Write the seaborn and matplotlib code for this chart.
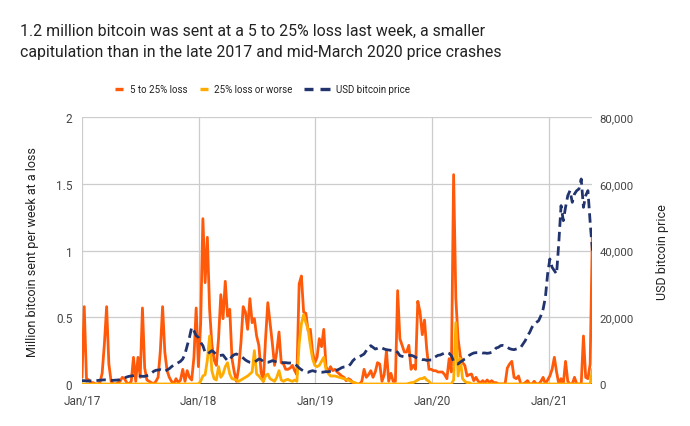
import pandas as pd
import matplotlib
matplotlib.use("Agg")
import matplotlib.pyplot as plt
import matplotlib.dates as mdates
from matplotlib.lines import Line2D
from matplotlib.ticker import FuncFormatter
import seaborn as sns

# weekly series, first week of Jan 2017 to mid-May 2021
# million bitcoin sent at a 5 to 25% loss
loss_5_25 = [
    # 2017
    0.05, 0.58, 0.04, 0.03, 0.01, 0.01, 0.0, 0.0, 0.01, 0.08, 0.3, 0.58, 0.15,
    0.02, 0.0, 0.0, 0.01, 0.02, 0.05, 0.04, 0.01, 0.0, 0.02, 0.2, 0.02, 0.2,
    0.05, 0.57, 0.12, 0.03, 0.02, 0.01, 0.0, 0.02, 0.05, 0.25, 0.58, 0.24, 0.1,
    0.05, 0.02, 0.0, 0.04, 0.01, 0.03, 0.11, 0.02, 0.1, 0.05, 0.03, 0.2, 0.57,
    # 2018
    0.13, 0.45, 1.24, 0.76, 1.1, 0.56, 0.3, 0.18, 0.14, 0.34, 0.67, 0.49, 0.77,
    0.51, 0.56, 0.19, 0.09, 0.02, 0.12, 0.31, 0.58, 0.54, 0.41, 0.64, 0.46, 0.49,
    0.36, 0.29, 0.09, 0.02, 0.34, 0.61, 0.46, 0.31, 0.14, 0.24, 0.39, 0.16, 0.15,
    0.11, 0.11, 0.12, 0.14, 0.1, 0.07, 0.75, 0.81, 0.54, 0.53, 0.40, 0.41, 0.24,
    # 2019
    0.16, 0.2, 0.34, 0.28, 0.41, 0.13, 0.09, 0.13, 0.1, 0.11, 0.09, 0.075, 0.06,
    0.05, 0.025, 0.04, 0.03, 0.01, 0.0, 0.0, 0.0, 0.02, 0.11, 0.05, 0.07, 0.1,
    0.05, 0.09, 0.16, 0.15, 0.02, 0.07, 0.25, 0.02, 0.08, 0.02, 0.02, 0.70, 0.34,
    0.29, 0.24, 0.24, 0.29, 0.11, 0.14, 0.11, 0.62, 0.54, 0.37, 0.48, 0.26, 0.11,
    # 2020
    0.11, 0.1, 0.1, 0.09, 0.09, 0.09, 0.07, 0.04, 0.19, 0.09, 1.57, 0.64, 0.34,
    0.21, 0.16, 0.14, 0.06, 0.07, 0.075, 0.025, 0.05, 0.02, 0.01, 0.025, 0.01,
    0.03, 0.01, 0.025, 0.01, 0.01, 0.0, 0.0, 0.0, 0.0, 0.12, 0.15, 0.17, 0.05,
    0.04, 0.06, 0.0, 0.0, 0.01, 0.025, 0.0, 0.0, 0.02, 0.0, 0.0, 0.02, 0.05, 0.0,
    # 2021
    0.03, 0.06, 0.11, 0.2, 0.09, 0.0, 0.04, 0.0, 0.17, 0.02, 0.0, 0.0, 0.05, 0.0,
    0.0, 0.0, 0.36, 0.05, 0.04, 0.15, 1.15,
]

# million bitcoin sent at a 25% loss or worse
loss_25_plus = [0.0] * 53 + [
    0.02, 0.06, 0.07, 0.18, 0.36, 0.1, 0.04, 0.03, 0.13, 0.05, 0.075, 0.13, 0.16,
    0.075, 0.04, 0.035, 0.03, 0.02, 0.03, 0.04, 0.05, 0.06, 0.075, 0.09, 0.25,
    0.075, 0.06, 0.04, 0.02, 0.06, 0.075, 0.04, 0.03, 0.02, 0.05, 0.1, 0.03, 0.02,
    0.03, 0.035, 0.025, 0.02, 0.03, 0.02, 0.3, 0.45, 0.52, 0.46, 0.41, 0.29, 0.19,
    0.14, 0.13, 0.14, 0.17, 0.2, 0.11, 0.08, 0.06, 0.06, 0.06, 0.055, 0.05, 0.045,
    0.04, 0.035, 0.03, 0.02, 0.015, 0.01,
] + [0.0] * 23 + [
    0.005, 0.01, 0.01, 0.02, 0.03, 0.04, 0.04, 0.05, 0.03, 0.02,
] + [0.0] * 10 + [
    0.03, 0.46, 0.06, 0.19, 0.04, 0.02, 0.01, 0.01,
] + [0.0] * 54 + [0.11]

# USD bitcoin price
btc_price = [
    # 2017
    1000, 1000, 900, 900, 950, 1000, 1000, 1050, 1150, 1200, 1250, 1150, 1050,
    1050, 1100, 1150, 1200, 1300, 1600, 1800, 2100, 2300, 2400, 2500, 2600, 2500,
    2400, 2300, 2300, 2500, 2700, 3200, 3800, 4100, 4200, 4300, 4100, 3800, 4200,
    4600, 5200, 5700, 6000, 6400, 6800, 7500, 9000, 11500, 14000, 17000, 16000, 14500,
    # 2018
    14000, 12500, 11500, 9500, 9000, 9500, 10000, 9500, 8800, 8500, 8600, 8700, 7800,
    7000, 7200, 8300, 8800, 9000, 8600, 8300, 7800, 7200, 6800, 6500, 6400, 6600,
    7000, 7500, 7300, 6700, 6500, 6500, 6700, 7000, 6800, 6600, 6500, 6500, 6400,
    6400, 6300, 6300, 6200, 6000, 5500, 4800, 4300, 3900, 3600, 3500, 3800, 4000,
    # 2019
    3800, 3600, 3500, 3500, 3600, 3700, 3700, 3800, 3900, 4000, 4200, 4500, 4900,
    5100, 5200, 5300, 6000, 7000, 7600, 8000, 8200, 8600, 9000, 10000, 11000, 11500,
    11000, 10500, 10700, 11000, 10800, 10500, 10300, 10200, 10100, 10000, 10000, 9500, 8500,
    8300, 8200, 8300, 8500, 8600, 8400, 8000, 7700, 7500, 7300, 7300, 7100, 7200,
    # 2020
    7200, 7800, 8200, 8600, 8700, 9000, 9300, 9500, 9200, 8500, 6800, 6200, 6000,
    6600, 7000, 7500, 7800, 8600, 9000, 9300, 9400, 9400, 9500, 9300, 9300, 9200,
    9300, 9500, 10000, 10800, 11000, 11500, 11600, 11500, 11000, 10600, 10400, 10300,
    10500, 10700, 11000, 12000, 13000, 14500, 15500, 17000, 18000, 18500, 19000,
    20500, 22500, 26000, 33000,
    # 2021
    37500, 35000, 34000, 33000, 42500, 53500, 49000, 53000, 56500, 58000, 54500,
    57000, 58000, 58500, 61500, 53000, 56500, 58000, 48500, 40000,
]

weeks = pd.date_range("2017-01-01", periods=len(btc_price), freq="7D")
df = pd.DataFrame({
    "week": weeks,
    "loss_5_25": loss_5_25,
    "loss_25_plus": loss_25_plus,
    "price": btc_price,
})

ORANGE = "#ff5a0a"
YELLOW = "#ffab00"
NAVY = "#22346e"
TEXT = "#222222"
TICK = "#444444"

sns.set_style("white")
plt.rcParams["font.family"] = ["Roboto", "DejaVu Sans"]

fig = plt.figure(figsize=(6.9, 4.27), dpi=100)
ax = fig.add_axes([82 / 690, 42 / 427, 510.4 / 690, 266.7 / 427])

# grid + dark baseline
ax.grid(True, axis="both", color="#cccccc", lw=0.9)
ax.set_axisbelow(True)
ax.axhline(0, color="#333333", lw=1.3, zorder=1.5)

sns.lineplot(data=df, x="week", y="loss_5_25", ax=ax, color=ORANGE, lw=2, zorder=3)
sns.lineplot(data=df, x="week", y="loss_25_plus", ax=ax, color=YELLOW, lw=2, zorder=4)

ax.set_xlim(weeks[0], weeks[-1])
ax.set_ylim(0, 2)
ax.set_yticks([0, 0.5, 1, 1.5, 2])
ax.set_yticklabels(["0", "0.5", "1", "1.5", "2"])
ax.xaxis.set_major_locator(mdates.YearLocator())
ax.xaxis.set_major_formatter(mdates.DateFormatter("Jan/%y"))
ax.tick_params(axis="both", length=0, labelsize=8.5, colors=TICK)
ax.tick_params(axis="y", pad=7)
ax.tick_params(axis="x", pad=7)
ax.set_xlabel("")
ax.set_ylabel("Million bitcoin sent per week at a loss", fontsize=9, color=TEXT, labelpad=12)
for s in ax.spines.values():
    s.set_visible(False)

ax2 = ax.twinx()
sns.lineplot(data=df, x="week", y="price", ax=ax2, color=NAVY, lw=2,
             linestyle=(0, (3.4, 1.8)), zorder=5)
ax2.set_ylim(0, 80000)
ax2.set_yticks([0, 20000, 40000, 60000, 80000])
ax2.yaxis.set_major_formatter(FuncFormatter(lambda v, p: f"{int(v):,}"))
ax2.tick_params(axis="y", length=0, labelsize=8.2, colors=TICK, pad=5)
ax2.set_ylabel("USD bitcoin price", fontsize=9, color=TEXT, labelpad=16)
ax2.grid(False)
for s in ax2.spines.values():
    s.set_visible(False)

# title
fig.text(20 / 690, 1 - 24 / 427,
         "1.2 million bitcoin was sent at a 5 to 25% loss last week, a smaller\n"
         "capitulation than in the late 2017 and mid-March 2020 price crashes",
         ha="left", va="top", fontsize=11.4, color=TEXT, linespacing=1.5)

# legend drawn by hand to match layout
ly = 1 - 90 / 427
def legend_item(x0, x1, color, label, tx, dashed=False):
    if dashed:
        for a, b in [(x0, x0 + 9), (x0 + 16, x0 + 26)]:
            fig.add_artist(Line2D([a / 690, b / 690], [ly, ly], color=color, lw=2.4,
                                  solid_capstyle="butt"))
    else:
        fig.add_artist(Line2D([x0 / 690, x1 / 690], [ly, ly], color=color, lw=2.4,
                              solid_capstyle="butt"))
    fig.text(tx / 690, ly, label, ha="left", va="center", fontsize=7, color=TEXT)

legend_item(115, 123, ORANGE, "5 to 25% loss", 130)
legend_item(200, 208, YELLOW, "25% loss or worse", 214)
legend_item(304, 330, NAVY, "USD bitcoin price", 336, dashed=True)

plt.savefig("out.png", dpi=100)
